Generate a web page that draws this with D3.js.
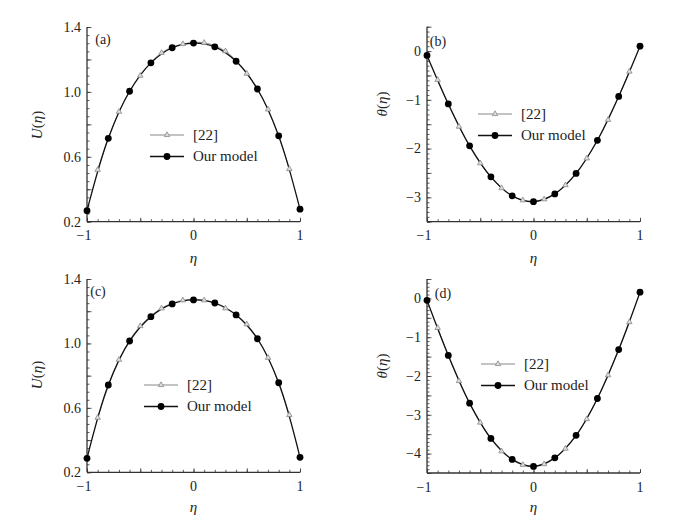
<!DOCTYPE html>
<html><head><meta charset="utf-8">
<script src="https://cdn.jsdelivr.net/npm/d3@7"></script>
<style>body{margin:0;background:#fff}svg{display:block}svg text{font-family:'Liberation Serif','DejaVu Serif',serif !important;fill:#222}</style>
</head><body>
<svg id="c" width="700" height="525" font-family="Liberation Serif, DejaVu Serif, serif"></svg>
<script>
// Data
const etaModel = [-1,-0.8,-0.6,-0.4,-0.2,0,0.2,0.4,0.6,0.8,1];
const eta22 = [-0.9,-0.7,-0.5,-0.3,-0.1,0.1,0.3,0.5,0.7,0.9];

const aModel = [0.268,0.714,1.004,1.179,1.272,1.301,1.278,1.189,1.018,0.729,0.277];
const a22 = [0.52,0.878,1.10,1.241,1.295,1.303,1.251,1.113,0.892,0.525];

const bModel = [-0.09,-1.085,-1.944,-2.58,-2.97,-3.09,-2.93,-2.51,-1.83,-0.93,0.10];
const b22 = [-0.59,-1.55,-2.30,-2.81,-3.06,-3.04,-2.75,-2.20,-1.41,-0.42];

const cModel = [0.287,0.742,1.015,1.166,1.245,1.270,1.251,1.177,1.029,0.756,0.293];
const c22 = [0.539,0.899,1.108,1.218,1.268,1.268,1.218,1.119,0.911,0.556];

const dModel = [-0.05,-1.47,-2.70,-3.61,-4.15,-4.33,-4.11,-3.53,-2.58,-1.32,0.16];
const d22 = [-0.76,-2.13,-3.20,-3.94,-4.29,-4.27,-3.87,-3.11,-1.98,-0.61];

const xTickLabels = [-1,0,1];
const uTickLabels = [0.2,0.6,1.0,1.4];
const bTickLabels = [-3,-2,-1,0];
const dTickLabels = [-4,-3,-2,-1,0];
const legendLabels = ["[22]","Our model"];

const panels = [
  {tag:"(a)", model:aModel, ref:a22, yDom:[0.2,1.4], yTicks:uTickLabels, yMajor:0.2, yMinor:0.05, fmt:d3.format(".1f"),
   xr:[87,300], yr:[221.7,27], ytitle:"U", ytx:42, yty:125, xty:263, tagXY:[103,44], leg:[150,135]},
  {tag:"(b)", model:bModel, ref:b22, yDom:[-3.5,0.5], yTicks:bTickLabels, yMajor:0.5, yMinor:0.1, fmt:d3.format("d"),
   xr:[427,640], yr:[221.7,26.7], ytitle:"θ", ytx:387, yty:104, xty:263, tagXY:[438,46], leg:[478,114]},
  {tag:"(c)", model:cModel, ref:c22, yDom:[0.2,1.4], yTicks:uTickLabels, yMajor:0.2, yMinor:0.05, fmt:d3.format(".1f"),
   xr:[87,300], yr:[472.3,279], ytitle:"U", ytx:42, yty:375, xty:512, tagXY:[98,296], leg:[144,385]},
  {tag:"(d)", model:dModel, ref:d22, yDom:[-4.5,0.5], yTicks:dTickLabels, yMajor:0.5, yMinor:0.1, fmt:d3.format("d"),
   xr:[427,640], yr:[473,279], ytitle:"θ", ytx:387, yty:366, xty:512, tagXY:[443,298], leg:[481,364]}
];

const svg = d3.select("#c");
const FONT = "Liberation Serif, DejaVu Serif, serif";
const minus = s => String(s).replace("-","\u2212");
const axisColor = "#333";

function ticksBetween(lo, hi, step){
  const out=[]; const n=Math.round((hi-lo)/step);
  for(let i=0;i<=n;i++) out.push(+(lo+i*step).toFixed(4));
  return out;
}

panels.forEach(p=>{
  const g = svg.append("g").attr("font-family",FONT);
  const x = d3.scaleLinear().domain([-1,1]).range(p.xr);
  const y = d3.scaleLinear().domain(p.yDom).range(p.yr);

  const addAxis = (axis, tr) => {
    const a = g.append("g").attr("transform",tr).call(axis);
    a.select(".domain").remove();
    a.selectAll(".tick line").attr("stroke",axisColor).attr("stroke-width",0.8);
    a.selectAll(".tick text").remove();
  };
  addAxis(d3.axisBottom(x).tickValues(ticksBetween(-1,1,0.1)).tickSize(-2.5), `translate(0,${p.yr[0]})`);
  addAxis(d3.axisBottom(x).tickValues(ticksBetween(-1,1,0.5)).tickSize(-4), `translate(0,${p.yr[0]})`);
  addAxis(d3.axisLeft(y).tickValues(ticksBetween(p.yDom[0],p.yDom[1],p.yMinor)).tickSize(-2.5), `translate(${p.xr[0]},0)`);
  addAxis(d3.axisLeft(y).tickValues(ticksBetween(p.yDom[0],p.yDom[1],p.yMajor)).tickSize(-4.5), `translate(${p.xr[0]},0)`);
  g.append("line").attr("x1",x(-1)).attr("x2",x(1)).attr("y1",p.yr[0]).attr("y2",p.yr[0]).attr("stroke",axisColor).attr("stroke-width",1.3);
  g.append("line").attr("x1",p.xr[0]).attr("x2",p.xr[0]).attr("y1",y(p.yDom[0])).attr("y2",y(p.yDom[1])).attr("stroke",axisColor).attr("stroke-width",1.3);

  g.selectAll(".xl").data(xTickLabels).enter().append("text")
    .attr("font-family",FONT)
    .attr("x",d=>x(d)+(d<0?-3:0)).attr("y",p.yr[0]+18.5).attr("text-anchor","middle").attr("font-size",14)
    .text(d=>minus(d));
  g.selectAll(".yl").data(p.yTicks).enter().append("text")
    .attr("font-family",FONT)
    .attr("x",p.xr[0]-6).attr("y",d=>y(d)+4.8).attr("text-anchor","end").attr("font-size",14)
    .text(d=>minus(p.fmt(d)));

  g.append("text").attr("font-family",FONT).attr("x",(p.xr[0]+p.xr[1])/2).attr("y",p.xty).attr("text-anchor","middle")
    .attr("font-size",15).attr("font-style","italic").text("η");
  const yt = g.append("text").attr("font-family",FONT).attr("transform",`translate(${p.ytx},${p.yty}) rotate(-90)`)
    .attr("text-anchor","middle").attr("font-size",15);
  yt.append("tspan").attr("font-style","italic").text(p.ytitle);
  yt.append("tspan").text("(");
  yt.append("tspan").attr("font-style","italic").text("η");
  yt.append("tspan").text(")");
  g.append("text").attr("font-family",FONT).attr("x",p.tagXY[0]).attr("y",p.tagXY[1]).attr("text-anchor","middle").attr("font-size",14).text(p.tag);

  const line = d3.line().x(d=>x(d[0])).y(d=>y(d[1])).curve(d3.curveCatmullRom.alpha(0.5));
  const refPts = eta22.map((e,i)=>[e,p.ref[i]]);
  const modPts = etaModel.map((e,i)=>[e,p.model[i]]);
  g.append("path").attr("d",line(refPts)).attr("fill","none").attr("stroke","#999").attr("stroke-width",1);
  g.append("path").attr("d",line(modPts)).attr("fill","none").attr("stroke","#111").attr("stroke-width",1.3);
  const tri = d3.symbol().type(d3.symbolTriangle).size(13);
  g.selectAll(".tr").data(refPts).enter().append("path").attr("d",tri)
    .attr("transform",d=>`translate(${x(d[0])},${y(d[1])})`).attr("fill","#ddd").attr("stroke","#888").attr("stroke-width",0.8);
  g.selectAll(".ci").data(modPts).enter().append("circle").attr("cx",d=>x(d[0])).attr("cy",d=>y(d[1])).attr("r",3.4).attr("fill","#000");

  const [lx,ly]=p.leg;
  g.append("line").attr("x1",lx).attr("x2",lx+34).attr("y1",ly).attr("y2",ly).attr("stroke","#888").attr("stroke-width",1.2);
  g.append("path").attr("d",tri).attr("transform",`translate(${lx+17},${ly})`).attr("fill","#ddd").attr("stroke","#888").attr("stroke-width",0.8);
  g.append("line").attr("x1",lx).attr("x2",lx+34).attr("y1",ly+21.5).attr("y2",ly+21.5).attr("stroke","#111").attr("stroke-width",1.3);
  g.append("circle").attr("cx",lx+17).attr("cy",ly+21.5).attr("r",3.4).attr("fill","#000");
  legendLabels.forEach((t,i)=>{
    g.append("text").attr("font-family",FONT).attr("x",lx+43).attr("y",ly+i*21.5+4.8).attr("font-size",15).text(t);
  });
});
</script>
</body></html>
